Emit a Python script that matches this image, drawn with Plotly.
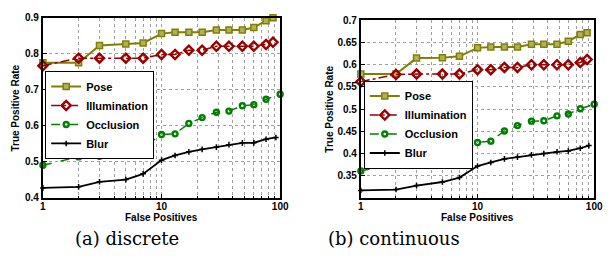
import plotly.graph_objects as go

# ---------------- data ----------------
series_names = ["Pose", "Illumination", "Occlusion", "Blur"]

# (a) discrete
a_pose_x = [1, 2, 3, 5, 7, 10, 13, 17, 22, 29, 37, 48, 60, 76, 87]
a_pose_y = [0.775, 0.775, 0.823, 0.827, 0.830, 0.856, 0.860, 0.860, 0.860, 0.866, 0.866, 0.866, 0.873, 0.892, 0.900]
a_illum_x = [1, 2, 3, 5, 7, 10, 13, 17, 22, 29, 37, 48, 60, 76, 87]
a_illum_y = [0.767, 0.788, 0.788, 0.788, 0.788, 0.798, 0.798, 0.810, 0.810, 0.821, 0.821, 0.821, 0.821, 0.826, 0.832]
a_occl_x = [1, 2, 3, 5, 7, 10, 13, 17, 22, 29, 37, 48, 60, 76, 100]
a_occl_y = [0.491, 0.514, 0.516, 0.524, 0.539, 0.576, 0.578, 0.607, 0.623, 0.638, 0.641, 0.656, 0.659, 0.674, 0.688]
a_blur_x = [1, 2, 3, 5, 7, 10, 13, 17, 22, 29, 37, 48, 60, 76, 92]
a_blur_y = [0.428, 0.431, 0.445, 0.451, 0.467, 0.505, 0.518, 0.528, 0.535, 0.541, 0.548, 0.553, 0.553, 0.563, 0.568]

# (b) continuous
b_pose_x = [1, 2, 3, 5, 7, 10, 13, 17, 22, 29, 37, 48, 60, 76, 87]
b_pose_y = [0.579, 0.579, 0.615, 0.616, 0.619, 0.638, 0.640, 0.640, 0.640, 0.646, 0.646, 0.646, 0.653, 0.668, 0.672]
b_illum_x = [1, 2, 3, 5, 7, 10, 13, 17, 22, 29, 37, 48, 60, 76, 87]
b_illum_y = [0.562, 0.578, 0.579, 0.579, 0.579, 0.589, 0.589, 0.594, 0.594, 0.600, 0.600, 0.600, 0.600, 0.605, 0.612]
b_occl_x = [1, 2, 3, 5, 7, 10, 13, 17, 22, 29, 37, 48, 60, 76, 100]
b_occl_y = [0.361, 0.379, 0.379, 0.387, 0.398, 0.425, 0.428, 0.451, 0.463, 0.473, 0.474, 0.485, 0.489, 0.501, 0.511]
b_blur_x = [1, 2, 3, 5, 7, 10, 13, 17, 22, 29, 37, 48, 60, 76, 90]
b_blur_y = [0.317, 0.319, 0.328, 0.336, 0.346, 0.372, 0.380, 0.388, 0.392, 0.397, 0.400, 0.404, 0.406, 0.412, 0.418]

x_ticks = [1, 10, 100]
x_minor = [2, 3, 4, 5, 6, 7, 8, 9, 20, 30, 40, 50, 60, 70, 80, 90]
a_y_ticks = [0.4, 0.5, 0.6, 0.7, 0.8, 0.9]
b_y_ticks = [0.35, 0.4, 0.45, 0.5, 0.55, 0.6, 0.65, 0.7]
b_y_labels = ["0.35", "0.4", "0.45", "0.5", "0.55", "0.6", "0.65", "0.7"]

captions = ["(a) discrete", "(b) continuous"]
x_title = "False Positives"
y_title = "True Positive Rate"

# ---------------- styles ----------------
OLIVE = "#808000"
DRED = "#990000"
GREEN = "#008000"
BLACK = "#000000"
FONT = "Liberation Sans"

styles = {
    "Pose": dict(line=dict(color=OLIVE, width=2, dash="solid"),
                 marker=dict(symbol="square", size=6, color="#b0b060", line=dict(color=OLIVE, width=1.5))),
    "Illumination": dict(line=dict(color=DRED, width=1.5, dash="dashdot"),
                         marker=dict(symbol="diamond-open", size=7, color=DRED, line=dict(color=DRED, width=2.4))),
    "Occlusion": dict(line=dict(color=GREEN, width=1.5, dash="dash"),
                      marker=dict(symbol="circle-open", size=5, color=GREEN, line=dict(color=GREEN, width=2.4))),
    "Blur": dict(line=dict(color=BLACK, width=1.8, dash="solid"),
                 marker=dict(symbol="cross-thin-open", size=4, color=BLACK, line=dict(color=BLACK, width=1.5))),
}

fig = go.Figure()

panels = [
    ("x", "y", "legend", [(a_pose_x, a_pose_y), (a_illum_x, a_illum_y), (a_occl_x, a_occl_y), (a_blur_x, a_blur_y)]),
    ("x2", "y2", "legend2", [(b_pose_x, b_pose_y), (b_illum_x, b_illum_y), (b_occl_x, b_occl_y), (b_blur_x, b_blur_y)]),
]
for xa, ya, lg, data in panels:
    for name, (xs, ys) in zip(series_names, data):
        fig.add_trace(go.Scatter(x=xs, y=ys, name=name, mode="lines+markers",
                                 xaxis=xa, yaxis=ya, legend=lg, cliponaxis=False, **styles[name]))

W, H = 613, 268

def px_x(v):
    return v / W

def px_y(v):
    return 1 - v / H

axis_common = dict(showline=True, linecolor="black", linewidth=2, mirror=True,
                   ticks="inside", ticklen=4, tickcolor="black", tickwidth=1,
                   showgrid=True, gridcolor="#a0a0a0", griddash="dot", gridwidth=1,
                   zeroline=False, ticklabeloverflow="allow",
                   tickfont=dict(family=FONT, size=10, color="black", weight="bold"))

xaxis_common = dict(axis_common, type="log", range=[0, 2], tickmode="array",
                    tickvals=x_ticks, ticktext=[str(v) for v in x_ticks],
                    ticklabelstandoff=-2,
                    minor=dict(tickmode="array", tickvals=x_minor, showgrid=True,
                               gridcolor="#a0a0a0", griddash="dot", gridwidth=1,
                               ticks="inside", ticklen=2, tickcolor="black"))

leg_common = dict(xanchor="left", yanchor="top",
                  bgcolor="white", bordercolor="black", borderwidth=1,
                  font=dict(family=FONT, size=11, color="black", weight="bold"),
                  tracegroupgap=0, itemwidth=30)

fig.update_layout(
    width=W, height=H,
    margin=dict(l=0, r=0, t=0, b=0),
    paper_bgcolor="white", plot_bgcolor="white",
    showlegend=True,
    xaxis=dict(xaxis_common, domain=[px_x(40.7), px_x(282.7)], anchor="y"),
    yaxis=dict(axis_common, domain=[px_y(201), px_y(12.3)], anchor="x", range=[0.4, 0.9],
               tickmode="array", tickvals=a_y_ticks, ticktext=[f"{v:.1f}" for v in a_y_ticks]),
    xaxis2=dict(xaxis_common, domain=[px_x(365), px_x(603)], anchor="y2"),
    yaxis2=dict(axis_common, domain=[px_y(201), px_y(15)], anchor="x2", range=[0.3, 0.7],
                tickmode="array", tickvals=b_y_ticks, ticktext=b_y_labels),
    legend=dict(leg_common, x=px_x(43), y=px_y(68)),
    legend2=dict(leg_common, x=px_x(368), y=px_y(78)),
)

annots = []
for cx, txt in [(162, x_title), (484, x_title)]:
    annots.append(dict(x=px_x(cx), y=px_y(221), xref="paper", yref="paper", text=txt,
                       showarrow=False, xanchor="center", yanchor="middle",
                       font=dict(family=FONT, size=10, color="black", weight="bold")))
for cx, cy, txt in [(13, 106.6, y_title), (333, 108, y_title)]:
    annots.append(dict(x=px_x(cx), y=px_y(cy), xref="paper", yref="paper", text=txt,
                       showarrow=False, xanchor="center", yanchor="middle", textangle=-90,
                       font=dict(family=FONT, size=10, color="black", weight="bold")))
for cx, txt in [(126, captions[0]), (399, captions[1])]:
    annots.append(dict(x=px_x(cx), y=px_y(243), xref="paper", yref="paper", text=txt,
                       showarrow=False, xanchor="center", yanchor="middle",
                       font=dict(family="DejaVu Serif", size=18, color="black")))
fig.update_layout(annotations=annots)

fig.write_html("out.html", config={"displayModeBar": False},
               post_script="document.body.style.margin='0';document.body.style.overflow='hidden';")
